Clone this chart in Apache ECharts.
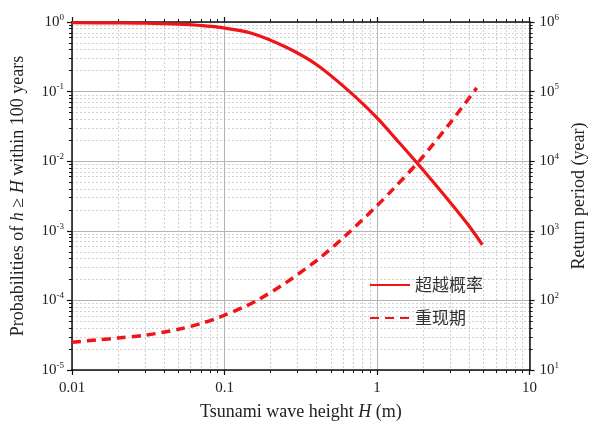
<!DOCTYPE html>
<html>
<head>
<meta charset="utf-8">
<script src="https://cdn.jsdelivr.net/npm/echarts@6/dist/echarts.min.js"></script>
<style>
html, body { margin: 0; padding: 0; background: #fff; }
#chart { width: 596px; height: 428px; }
</style>
</head>
<body>
<div id="chart"></div>
<script>
// exceedance probability within 100 years (solid)
var heights = [0.01, 0.02, 0.03, 0.05, 0.07, 0.09, 0.15, 0.25, 0.4, 0.66, 1, 1.3, 1.8, 3, 4, 4.9];
var exceedProb = [0.975, 0.968, 0.96, 0.93, 0.89, 0.845, 0.69, 0.44, 0.245, 0.1, 0.042, 0.022, 0.0098, 0.0026, 0.00118, 0.00063];
// return period in years (dashed)
var rpHeights = [0.01, 0.015, 0.02, 0.03, 0.05, 0.07, 0.09, 0.135, 0.165, 0.25, 0.42, 0.63, 1, 1.26, 1.9, 3, 4.5];
var returnPeriod = [25, 27.2, 28.8, 31.5, 38.5, 46.5, 56, 81, 101, 177, 405, 875, 2300, 3870, 10200, 35000, 113000];

var xTickLabels = ['0.01', '0.1', '1', '10'];
var probExponents = ['-5', '-4', '-3', '-2', '-1', '0'];
var periodExponents = ['1', '2', '3', '4', '5', '6'];
var legendNames = ['超越概率', '重现期'];

var serif = '"Liberation Serif", "Times New Roman", serif';
var red = '#f01418';
var black = '#111';

function minorLogs(lo, hi) {
    var out = [];
    for (var d = lo; d < hi; d++) {
        for (var k = 2; k <= 9; k++) out.push(d + Math.log10(k));
    }
    return out;
}

function toLog(xs, ys) {
    return xs.map(function (x, i) { return [Math.log10(x), Math.log10(ys[i])]; });
}

var supRich = {
    b: { fontFamily: serif, fontSize: 15, color: '#222', lineHeight: 18 },
    s: { fontFamily: serif, fontSize: 9, color: '#222', lineHeight: 10, verticalAlign: 'top' }
};
var nameStyle = {
    fontFamily: serif, fontSize: 18, color: '#222',
    rich: { i: { fontFamily: serif, fontSize: 18, color: '#222', fontStyle: 'italic' } }
};

function majorX(pos, withLabels) {
    return {
        type: 'value', position: pos, min: -2, max: 1, interval: 1,
        axisLine: { show: true, onZero: false, lineStyle: { color: black, width: 1.5 } },
        axisTick: { show: true, length: 5, lineStyle: { color: black, width: 1.2 } },
        axisLabel: {
            show: withLabels, margin: 11, fontFamily: serif, fontSize: 15, color: '#222',
            formatter: function (v) { return xTickLabels[Math.round(v) + 2]; }
        },
        splitLine: { show: withLabels, lineStyle: { color: '#b4b4b4', width: 1 } }
    };
}
function minorX(pos, withGrid) {
    return {
        type: 'value', position: pos, min: -2, max: 1,
        axisLine: { show: false, onZero: false },
        axisTick: { show: true, length: 3, customValues: minorLogs(-2, 1), lineStyle: { color: black, width: 1 } },
        axisLabel: { show: false },
        splitLine: { show: withGrid, lineStyle: { color: '#d0d0d0', width: 1, type: [2, 2] } }
    };
}

var chart = echarts.init(document.getElementById('chart'));
chart.setOption({
    animation: false,
    backgroundColor: '#fff',
    grid: { left: 72, right: 60, top: 22, bottom: 58 },
    legend: {
        data: legendNames,
        orient: 'vertical',
        left: 369, top: 275, padding: 0,
        itemWidth: 40, itemHeight: 14, itemGap: 13,
        itemStyle: { opacity: 0 },
        textStyle: { fontFamily: '"Noto Sans CJK SC"', fontSize: 17, color: '#333', lineHeight: 20 }
    },
    xAxis: [
        Object.assign(majorX('bottom', true), {
            name: 'Tsunami wave height {i|H} (m)', nameLocation: 'middle', nameGap: 33,
            nameTextStyle: nameStyle
        }),
        minorX('bottom', true),
        majorX('top', false),
        minorX('top', false)
    ],
    yAxis: [
        {
            type: 'value', position: 'left', min: -5, max: 0, interval: 1,
            axisLine: { show: true, onZero: false, lineStyle: { color: black, width: 1.5 } },
            axisTick: { show: true, length: 5, lineStyle: { color: black, width: 1.2 } },
            axisLabel: {
                margin: 8, rich: supRich,
                formatter: function (v) { return '{b|10}{s|' + probExponents[Math.round(v) + 5] + '}'; }
            },
            splitLine: { show: true, lineStyle: { color: '#b4b4b4', width: 1 } },
            name: 'Probabilities of {i|h} ≥ {i|H} within 100 years', nameLocation: 'middle', nameGap: 45,
            nameTextStyle: nameStyle
        },
        {
            type: 'value', position: 'left', min: -5, max: 0,
            axisLine: { show: false, onZero: false },
            axisTick: { show: true, length: 3, customValues: minorLogs(-5, 0), lineStyle: { color: black, width: 1 } },
            axisLabel: { show: false },
            splitLine: { show: true, lineStyle: { color: '#d0d0d0', width: 1, type: [2, 2] } }
        },
        {
            type: 'value', position: 'right', min: 1, max: 6, interval: 1,
            axisLine: { show: true, onZero: false, lineStyle: { color: black, width: 1.5 } },
            axisTick: { show: true, length: 5, lineStyle: { color: black, width: 1.2 } },
            axisLabel: {
                margin: 10, rich: supRich,
                formatter: function (v) { return '{b|10}{s|' + periodExponents[Math.round(v) - 1] + '}'; }
            },
            splitLine: { show: false },
            name: 'Return period (year)', nameLocation: 'middle', nameGap: 35,
            nameTextStyle: nameStyle
        },
        {
            type: 'value', position: 'right', min: 1, max: 6,
            axisLine: { show: false, onZero: false },
            axisTick: { show: true, length: 3, customValues: minorLogs(1, 6), lineStyle: { color: black, width: 1 } },
            axisLabel: { show: false },
            splitLine: { show: false }
        }
    ],
    series: [
        {
            name: legendNames[0], type: 'line', xAxisIndex: 0, yAxisIndex: 0,
            data: toLog(heights, exceedProb),
            symbol: 'none', smooth: 0.3,
            lineStyle: { color: red, width: 3.2 }, itemStyle: { color: red },
            z: 5
        },
        {
            name: legendNames[1], type: 'line', xAxisIndex: 0, yAxisIndex: 2,
            data: toLog(rpHeights, returnPeriod),
            symbol: 'none', smooth: 0.3,
            lineStyle: { color: red, width: 3.5, type: [9, 6] }, itemStyle: { color: red },
            z: 5
        }
    ]
});
</script>
</body>
</html>
